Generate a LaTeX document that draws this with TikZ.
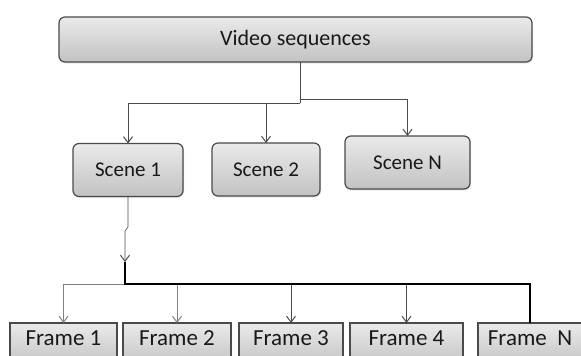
\documentclass[tikz,border=0pt]{standalone}
\usepackage{fontspec}
\setmainfont{Carlito}
\usepackage{tikz}
\usetikzlibrary{arrows.meta, shadows}

\definecolor{boxline}{HTML}{4A4A4A}
\definecolor{boxtop}{HTML}{EAEAEA}
\definecolor{boxbot}{HTML}{C2C2C2}

\begin{document}
\begin{tikzpicture}[->,>={Straight Barb[length=6pt,width=9pt,line width=1pt]},x=1pt,y=-1pt,semithick,draw=boxline]
  \tikzstyle{every node}=[outer sep=0pt, draw=boxline, line width=1.2pt, text=black!90,
                          top color=boxtop, bottom color=boxbot,
                          drop shadow={shadow xshift=1pt,shadow yshift=-1.5pt,opacity=0.2}]
  \tikzstyle{topbox}=[rounded corners=6pt, minimum width=473pt, minimum height=45pt,
                      font=\fontsize{22}{24}\selectfont]
  \tikzstyle{scenebox}=[rounded corners=6pt, minimum height=53pt,
                        font=\fontsize{21}{23}\selectfont]
  \tikzstyle{framebox}=[anchor=north, inner ysep=0pt, text height=22pt, text depth=22pt,
                        font=\fontsize{23}{25}\selectfont]
  \clip (0,0) rectangle (581,356);

  \node[topbox] (video) at (295.5,39.5) {Video sequences};

  \node[scenebox, minimum width=110pt] (s1) at (128,170)   {Scene 1};
  \node[scenebox, minimum width=108pt] (s2) at (266,169.5) {Scene 2};
  \node[scenebox, minimum width=125pt] (sN) at (407.5,162.5) {Scene N};

  \node[framebox, minimum width=107pt] (f1) at (63.5,323) {Frame 1};
  \node[framebox, minimum width=108pt] (f2) at (177,323)  {Frame 2};
  \node[framebox, minimum width=104pt] (f3) at (291,323)  {Frame 3};
  \node[framebox, minimum width=113pt] (f4) at (406.5,323) {Frame 4};
  \node[framebox, minimum width=104pt] (fN) at (530,323)  {Frame~~N};

  \coordinate (vl) at (300,103);
  \coordinate (vr) at (300,99);
  \coordinate (b1) at (128,227);
  \coordinate (b2) at (125,231);
  \coordinate (b3) at (125,262);
  \coordinate (bus) at (125,284);

  % video sequences to scenes
  \draw[-] ([xshift=4.5pt]video.south) -- (vl);
  \draw (vl) -| (s1);
  \draw (vl) -| (s2);
  \draw (vr) -| (sN);

  % scene 1 to frames
  \draw[gray] (bus) -| (f1);
  \draw[gray] (bus) -| (f2);
  \draw (bus) -| (f3);
  \draw (bus) -| (f4);
  \draw[-, line width=2pt, black] (b3) -- (bus) -| (fN);
  \draw[black!70] (s1) -- (b1) -- (b2) -- (b3);
\end{tikzpicture}
\end{document}
